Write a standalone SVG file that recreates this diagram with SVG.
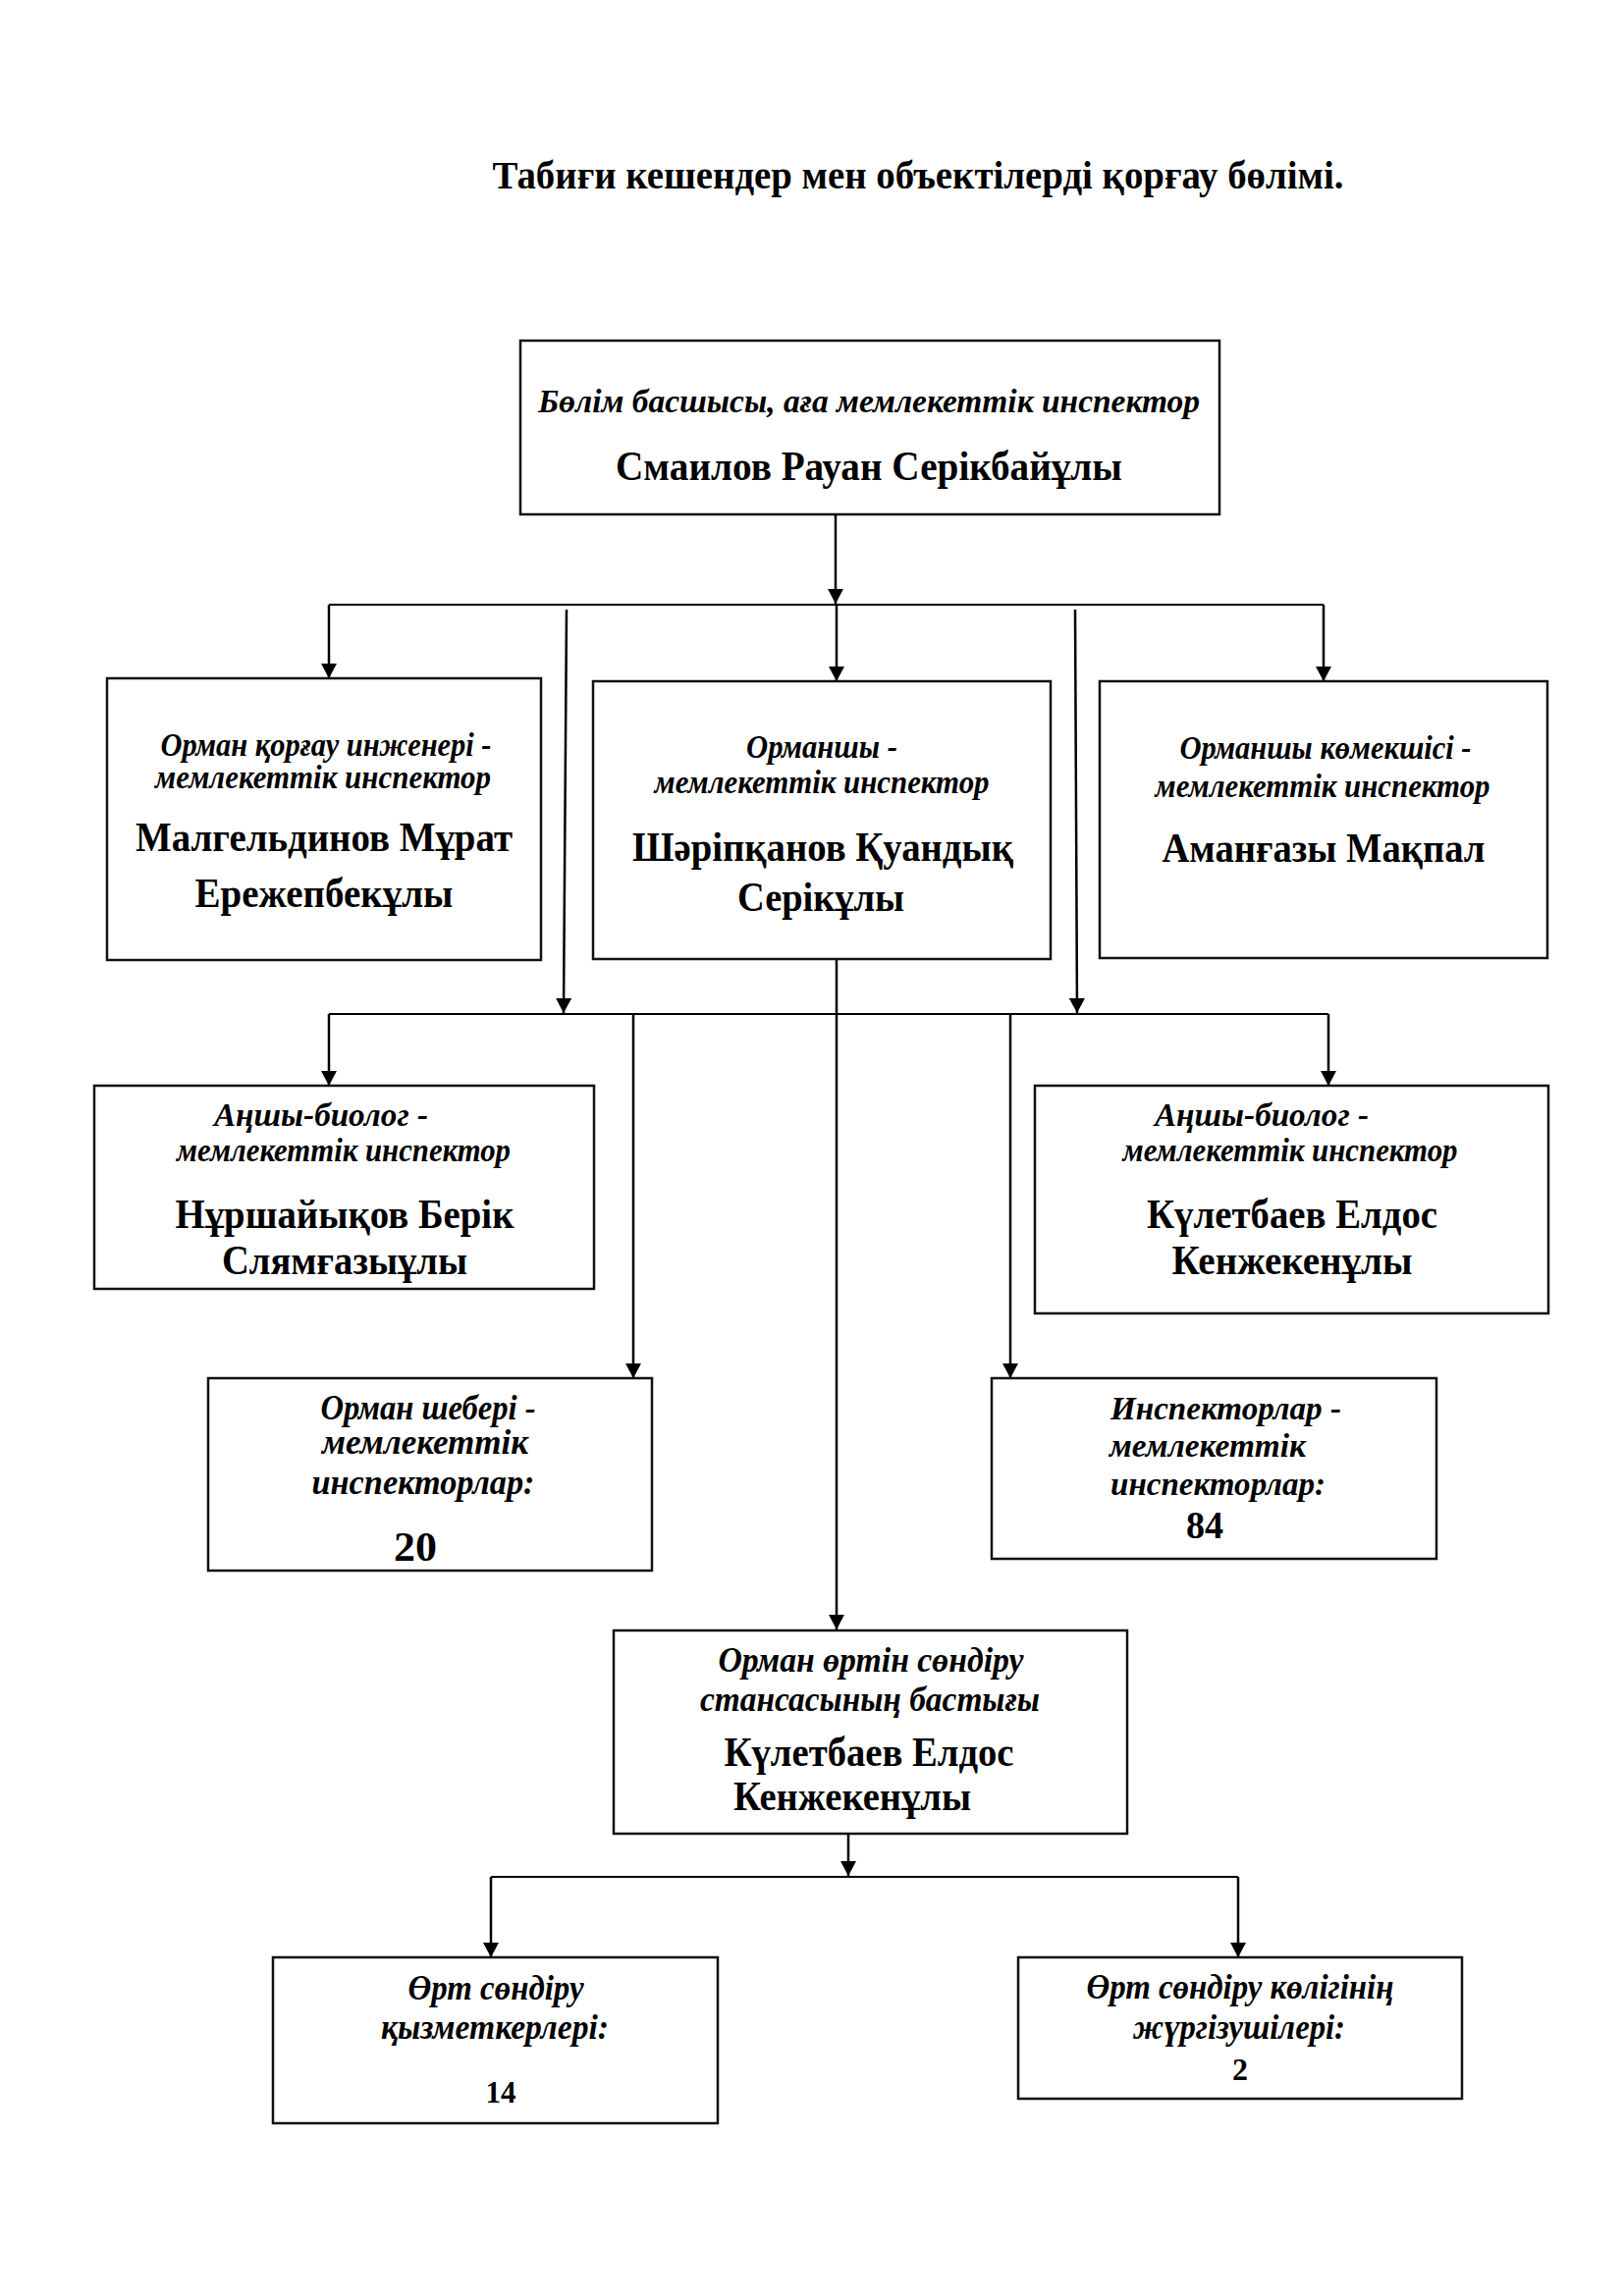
<svg xmlns="http://www.w3.org/2000/svg" width="1654" height="2339" viewBox="0 0 1654 2339">
<style>
text{font-family:"Liberation Serif","Times New Roman",serif;fill:#000}
.t{font-weight:bold;font-size:41px}
.i{font-weight:bold;font-style:italic;font-size:34px}
.j{font-weight:bold;font-style:italic;font-size:35px}
.k{font-weight:bold;font-style:italic;font-size:33px}
.n{font-weight:bold;font-size:42px}
.d{font-weight:bold;font-size:43px}
.box{fill:#fff;stroke:#111;stroke-width:2.5}
.c{fill:none;stroke:#000;stroke-width:2.5}
.h{fill:none;stroke:#000;stroke-width:2}
.m{text-anchor:middle}
</style>
<defs>
<marker id="ah" viewBox="0 0 15 16" refX="15" refY="8" markerWidth="15" markerHeight="16" markerUnits="userSpaceOnUse" orient="auto">
<path d="M0,0 L15,8 L0,16 z" fill="#000"/>
</marker>
</defs>
<rect width="1654" height="2339" fill="#fff"/>
<text class="t m" x="935" y="192" textLength="867" lengthAdjust="spacingAndGlyphs">Табиғи кешендер мен объектілерді қорғау бөлімі.</text>

<g id="connectors">
<line class="c" x1="851" y1="524" x2="851" y2="615" marker-end="url(#ah)"/>
<line class="h" x1="335" y1="616" x2="1348" y2="616"/>
<line class="c" x1="335" y1="616" x2="335" y2="691" marker-end="url(#ah)"/>
<line class="c" x1="852" y1="616" x2="852" y2="694" marker-end="url(#ah)"/>
<line class="c" x1="1348" y1="616" x2="1348" y2="694" marker-end="url(#ah)"/>
<line class="c" x1="577" y1="621" x2="574" y2="1032" marker-end="url(#ah)"/>
<line class="c" x1="1095" y1="621" x2="1097" y2="1032" marker-end="url(#ah)"/>
<line class="h" x1="335" y1="1033" x2="1353" y2="1033"/>
<line class="c" x1="335" y1="1033" x2="335" y2="1106" marker-end="url(#ah)"/>
<line class="c" x1="1353" y1="1033" x2="1353" y2="1106" marker-end="url(#ah)"/>
<line class="c" x1="645" y1="1033" x2="645" y2="1404" marker-end="url(#ah)"/>
<line class="c" x1="1029" y1="1033" x2="1029" y2="1404" marker-end="url(#ah)"/>
<line class="c" x1="852" y1="977" x2="852" y2="1660" marker-end="url(#ah)"/>
<line class="c" x1="864" y1="1868" x2="864" y2="1911" marker-end="url(#ah)"/>
<line class="h" x1="500" y1="1912" x2="1261" y2="1912"/>
<line class="c" x1="500" y1="1912" x2="500" y2="1994" marker-end="url(#ah)"/>
<line class="c" x1="1261" y1="1912" x2="1261" y2="1994" marker-end="url(#ah)"/>
</g>

<g id="head">
<rect class="box" x="530" y="347" width="712" height="177"/>
<text class="i m" x="885" y="420" textLength="674" lengthAdjust="spacingAndGlyphs">Бөлім басшысы, аға мемлекеттік инспектор</text>
<text class="n m" x="885" y="489" textLength="516" lengthAdjust="spacingAndGlyphs">Смаилов Рауан Серікбайұлы</text>
</g>

<g id="engineer">
<rect class="box" x="109" y="691" width="442" height="287"/>
<text class="i m" x="332" y="770" textLength="337" lengthAdjust="spacingAndGlyphs">Орман қорғау инженері -</text>
<text class="i m" x="329" y="803" textLength="342" lengthAdjust="spacingAndGlyphs">мемлекеттік инспектор</text>
<text class="n m" x="330" y="867" textLength="384" lengthAdjust="spacingAndGlyphs">Малгельдинов Мұрат</text>
<text class="n m" x="330" y="924" textLength="263" lengthAdjust="spacingAndGlyphs">Ережепбекұлы</text>
</g>

<g id="forester">
<rect class="box" x="604" y="694" width="466" height="283"/>
<text class="i m" x="837" y="772" textLength="154" lengthAdjust="spacingAndGlyphs">Орманшы -</text>
<text class="i m" x="837" y="808" textLength="341" lengthAdjust="spacingAndGlyphs">мемлекеттік инспектор</text>
<text class="n m" x="838" y="877" textLength="388" lengthAdjust="spacingAndGlyphs">Шәріпқанов Қуандық</text>
<text class="n m" x="836" y="928" textLength="170" lengthAdjust="spacingAndGlyphs">Серікұлы</text>
</g>

<g id="assistant">
<rect class="box" x="1120" y="694" width="456" height="282"/>
<text class="i m" x="1350" y="773" textLength="297" lengthAdjust="spacingAndGlyphs">Орманшы көмекшісі -</text>
<text class="i m" x="1347" y="812" textLength="341" lengthAdjust="spacingAndGlyphs">мемлекеттік инспектор</text>
<text class="n m" x="1348" y="878" textLength="329" lengthAdjust="spacingAndGlyphs">Аманғазы Мақпал</text>
</g>

<g id="hunter-left">
<rect class="box" x="96" y="1106" width="509" height="207"/>
<text class="i m" x="327" y="1147" textLength="218" lengthAdjust="spacingAndGlyphs">Аңшы-биолог -</text>
<text class="i m" x="350" y="1183" textLength="340" lengthAdjust="spacingAndGlyphs">мемлекеттік инспектор</text>
<text class="n m" x="351" y="1251" textLength="345" lengthAdjust="spacingAndGlyphs">Нұршайықов Берік</text>
<text class="n m" x="351" y="1298" textLength="250" lengthAdjust="spacingAndGlyphs">Слямғазыұлы</text>
</g>

<g id="hunter-right">
<rect class="box" x="1054" y="1106" width="523" height="232"/>
<text class="i m" x="1285" y="1147" textLength="218" lengthAdjust="spacingAndGlyphs">Аңшы-биолог -</text>
<text class="i m" x="1314" y="1183" textLength="341" lengthAdjust="spacingAndGlyphs">мемлекеттік инспектор</text>
<text class="n m" x="1316" y="1251" textLength="296" lengthAdjust="spacingAndGlyphs">Күлетбаев Елдос</text>
<text class="n m" x="1316" y="1298" textLength="245" lengthAdjust="spacingAndGlyphs">Кенжекенұлы</text>
</g>

<g id="masters">
<rect class="box" x="212" y="1404" width="452" height="196"/>
<text class="j m" x="436" y="1446" textLength="219" lengthAdjust="spacingAndGlyphs">Орман шебері -</text>
<text class="j m" x="433" y="1481" textLength="210" lengthAdjust="spacingAndGlyphs">мемлекеттік</text>
<text class="j m" x="431" y="1522" textLength="227" lengthAdjust="spacingAndGlyphs">инспекторлар:</text>
<text class="d m" x="423" y="1590" textLength="44" lengthAdjust="spacingAndGlyphs">20</text>
</g>

<g id="inspectors">
<rect class="box" x="1010" y="1404" width="453" height="184"/>
<text class="k" x="1131" y="1446" textLength="235" lengthAdjust="spacingAndGlyphs">Инспекторлар -</text>
<text class="k" x="1130" y="1484" textLength="200" lengthAdjust="spacingAndGlyphs">мемлекеттік</text>
<text class="k" x="1131" y="1523" textLength="219" lengthAdjust="spacingAndGlyphs">инспекторлар:</text>
<text class="d" x="1208" y="1567" style="font-size:39px" textLength="38" lengthAdjust="spacingAndGlyphs">84</text>
</g>

<g id="fire-station">
<rect class="box" x="625" y="1661" width="523" height="207"/>
<text class="j m" x="887" y="1703" textLength="311" lengthAdjust="spacingAndGlyphs">Орман өртін сөндіру</text>
<text class="j m" x="886" y="1743" textLength="346" lengthAdjust="spacingAndGlyphs">стансасының бастығы</text>
<text class="n m" x="885" y="1799" textLength="295" lengthAdjust="spacingAndGlyphs">Күлетбаев Елдос</text>
<text class="n" x="747" y="1844" textLength="242" lengthAdjust="spacingAndGlyphs">Кенжекенұлы</text>
</g>

<g id="firefighters">
<rect class="box" x="278" y="1994" width="453" height="169"/>
<text class="j m" x="505" y="2037" textLength="179" lengthAdjust="spacingAndGlyphs">Өрт сөндіру</text>
<text class="j m" x="504" y="2077" textLength="232" lengthAdjust="spacingAndGlyphs">қызметкерлері:</text>
<text class="d m" x="510" y="2142" style="font-size:32px" textLength="31" lengthAdjust="spacingAndGlyphs">14</text>
</g>

<g id="drivers">
<rect class="box" x="1037" y="1994" width="452" height="144"/>
<text class="j m" x="1263" y="2036" textLength="313" lengthAdjust="spacingAndGlyphs">Өрт сөндіру көлігінің</text>
<text class="j m" x="1262" y="2077" textLength="216" lengthAdjust="spacingAndGlyphs">жүргізушілері:</text>
<text class="d m" x="1263" y="2119" style="font-size:32px">2</text>
</g>
</svg>
